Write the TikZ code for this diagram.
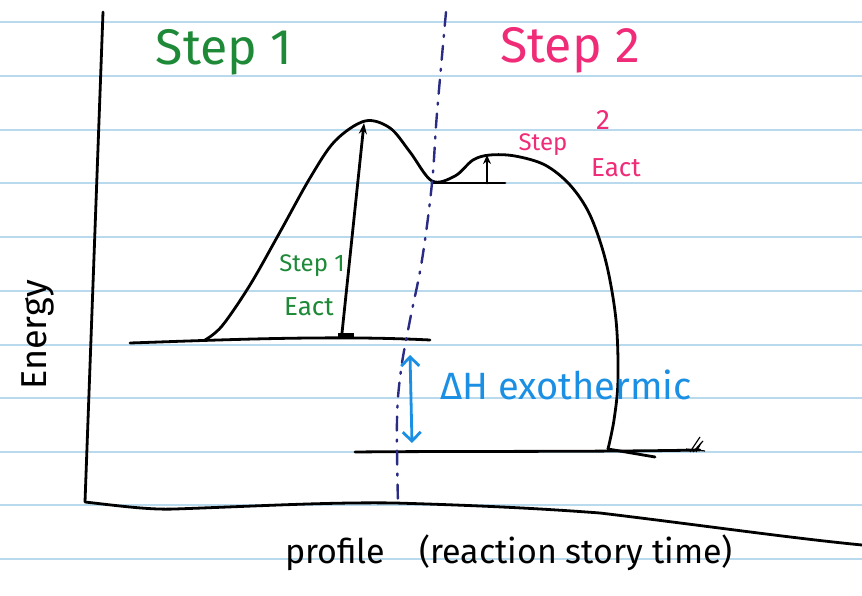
\documentclass[tikz,border=0pt]{standalone}
\usepackage{fontspec}
\setmainfont{Fira Sans}
\usetikzlibrary{arrows.meta}
\definecolor{paperline}{HTML}{B9D9EC}
\definecolor{stepgreen}{HTML}{1E8A38}
\definecolor{steppink}{HTML}{F02C78}
\definecolor{dhblue}{HTML}{1A8FE3}
\definecolor{navy}{HTML}{2A2B85}
\tikzset{
  ink/.style={line width=2.8pt, line cap=round, line join=round, black},
  ruled/.style={line width=1.6pt, paperline},
  lbl/.style={inner sep=0pt, anchor=center},
}
\begin{document}
\begin{tikzpicture}[x=1pt,y=-1pt]
\useasboundingbox (0,0) rectangle (862,596);
\fill[white] (0,0) rectangle (862,596);
% ruled paper
\foreach \yy in {22,76,130,183,237,291,345,398,452,505,559}
  \draw[ruled] (0,\yy) -- (862,\yy);
% axes
\coordinate (ytop) at (103,12);
\coordinate (origin) at (85,502);
\coordinate (xend) at (862,545);
\draw[ink] (ytop) -- (origin) .. controls (120,506) and (150,510) .. (175,509)
  .. controls (260,506) and (330,502) .. (395,503)
  .. controls (500,506) and (560,510) .. (600,513)
  .. controls (700,525) and (790,538) .. (xend);
% reactant level
\coordinate (rL) at (130,343);
\coordinate (rR) at (430,340);
\draw[ink] (rL) .. controls (220,340) and (330,335) .. (rR);
% product level
\coordinate (pL) at (355,452);
\coordinate (pR) at (700,450);
\draw[ink] (pL) .. controls (450,451) and (600,452) .. (pR);
% energy curve
\draw[ink] plot[smooth, tension=0.55] coordinates {
  (205,340) (222,326) (250,285) (280,232) (310,178) (335,141) (365,121)
  (390,128) (410,152) (432,181) (455,176) (473,160) (490,155) (515,156)
  (545,165) (570,185) (590,215) (606,262) (616,320) (618,380) (614,420) (608,449)};
\draw[ink] (608,449) -- (655,457);
% scribble at right end
\draw[line width=1.2pt, black] (690,452) -- (700,437) (693,452) -- (703,441) (696,452) -- (701,443) (686,449) -- (705,451);
% intermediate level
\coordinate (iL) at (432,183);
\coordinate (iR) at (505,183);
\draw[ink] (iL) -- (iR);
% step 1 activation arrow
\coordinate (a1b) at (342,333);
\coordinate (a1t) at (364,123);
\draw[ink, -{Stealth[length=11pt,width=8pt]}] (a1b) -- (a1t);
\fill[black] (338,338) rectangle (354,333);
% step 2 activation arrow
\coordinate (a2b) at (487,183);
\coordinate (a2t) at (487,155);
\draw[ink, -{Stealth[length=9pt,width=8pt]}] (a2b) -- (a2t);
% dividing dash-dot line
\draw[navy, line width=2.4pt, line cap=round, dash pattern=on 14pt off 9pt on 2pt off 9pt]
  plot[smooth, tension=0.6] coordinates {(446,12) (437,113) (432,183) (422,260) (410,320) (401,370) (397,420) (398,505)};
% delta H double arrow
\coordinate (dhT) at (410,355);
\coordinate (dhB) at (412,443);
\draw[dhblue, line width=2.8pt, line cap=round,
  {Straight Barb[length=9pt,width=18pt]}-{Straight Barb[length=9pt,width=18pt]}] (dhT) -- (dhB);
% labels
\node[lbl, text=stepgreen, font=\fontsize{50}{50}\selectfont] (s1) at (224,52) {Step 1};
\node[lbl, text=steppink, font=\fontsize{50}{50}\selectfont] (s2) at (570,50) {Step 2};
\node[lbl, text=stepgreen, font=\fontsize{24}{24}\selectfont] (s1a) at (312,266) {Step 1};
\node[lbl, text=stepgreen, font=\fontsize{26}{26}\selectfont] (s1b) at (309,307) {Eact};
\node[lbl, text=steppink, font=\fontsize{24}{24}\selectfont] (s2a) at (543,145) {Step};
\node[lbl, text=steppink, font=\fontsize{28}{28}\selectfont] (s2n) at (603,120) {2};
\node[lbl, text=steppink, font=\fontsize{26}{26}\selectfont] (s2b) at (616,168) {Eact};
\node[lbl, text=dhblue, font=\fontsize{38}{38}\selectfont, anchor=west] (dh) at (440,385) {ΔH exothermic};
\node[lbl, font=\fontsize{36}{36}\selectfont, rotate=90] (en) at (38,335) {Energy};
\node[lbl, font=\fontsize{34}{34}\selectfont, anchor=west] (xl) at (285,553) {profile\quad(reaction story time)};
\end{tikzpicture}
\end{document}
